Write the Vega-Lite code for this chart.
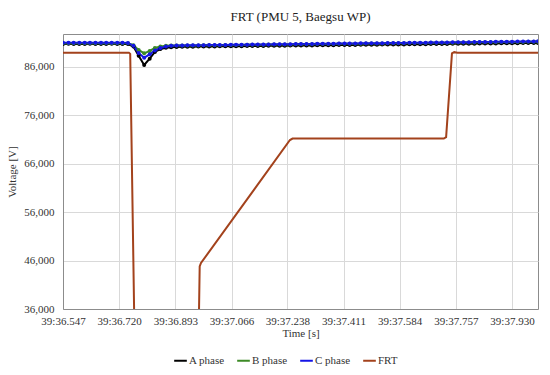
{
  "$schema": "https://vega.github.io/schema/vega-lite/v6.json",
  "width": 475,
  "height": 275,
  "autosize": {"type": "none"},
  "padding": {"left": 63, "top": 34, "right": 12, "bottom": 66},
  "background": "white",
  "config": {
    "font": "Liberation Serif",
    "view": {"stroke": "#8c8c8c", "strokeWidth": 1}
  },
  "title": {"text": "FRT (PMU 5, Baegsu WP)", "fontSize": 13, "fontWeight": "normal", "font": "Liberation Serif", "color": "#222", "offset": 10, "anchor": "middle"},
  "datasets": {
    "phase": [
      {"t":36.547,"A":90760,"B":90900,"C":90980},
      {"t":36.564,"A":90770,"B":90910,"C":90990},
      {"t":36.580,"A":90760,"B":90900,"C":90980},
      {"t":36.597,"A":90750,"B":90890,"C":90970},
      {"t":36.614,"A":90760,"B":90900,"C":90980},
      {"t":36.630,"A":90770,"B":90910,"C":90990},
      {"t":36.647,"A":90760,"B":90900,"C":90980},
      {"t":36.664,"A":90750,"B":90900,"C":90970},
      {"t":36.680,"A":90760,"B":90910,"C":90980},
      {"t":36.697,"A":90770,"B":90900,"C":90990},
      {"t":36.714,"A":90760,"B":90900,"C":90980},
      {"t":36.730,"A":90750,"B":90890,"C":90970},
      {"t":36.747,"A":90740,"B":90880,"C":90960},
      {"t":36.764,"A":90200,"B":90500,"C":90350},
      {"t":36.780,"A":88300,"B":89500,"C":88900},
      {"t":36.797,"A":86400,"B":88800,"C":87900},
      {"t":36.814,"A":87700,"B":89300,"C":88600},
      {"t":36.830,"A":89100,"B":89900,"C":89400},
      {"t":36.847,"A":89700,"B":90200,"C":89900},
      {"t":36.864,"A":89950,"B":90350,"C":90200},
      {"t":36.880,"A":90080,"B":90400,"C":90350},
      {"t":36.897,"A":90130,"B":90420,"C":90420},
      {"t":36.914,"A":90160,"B":90430,"C":90450},
      {"t":36.930,"A":90180,"B":90440,"C":90470},
      {"t":36.947,"A":90190,"B":90445,"C":90480},
      {"t":36.964,"A":90200,"B":90450,"C":90490},
      {"t":36.980,"A":90210,"B":90460,"C":90500},
      {"t":36.997,"A":90225,"B":90475,"C":90515},
      {"t":37.014,"A":90235,"B":90485,"C":90528},
      {"t":37.030,"A":90250,"B":90495,"C":90540},
      {"t":37.047,"A":90260,"B":90510,"C":90552},
      {"t":37.064,"A":90270,"B":90520,"C":90565},
      {"t":37.080,"A":90285,"B":90535,"C":90578},
      {"t":37.097,"A":90295,"B":90545,"C":90590},
      {"t":37.114,"A":90310,"B":90560,"C":90602},
      {"t":37.130,"A":90320,"B":90570,"C":90615},
      {"t":37.147,"A":90330,"B":90585,"C":90628},
      {"t":37.164,"A":90345,"B":90595,"C":90640},
      {"t":37.180,"A":90355,"B":90610,"C":90652},
      {"t":37.197,"A":90370,"B":90620,"C":90665},
      {"t":37.214,"A":90380,"B":90630,"C":90678},
      {"t":37.230,"A":90390,"B":90645,"C":90690},
      {"t":37.247,"A":90405,"B":90655,"C":90702},
      {"t":37.264,"A":90415,"B":90670,"C":90715},
      {"t":37.280,"A":90430,"B":90680,"C":90728},
      {"t":37.297,"A":90440,"B":90690,"C":90740},
      {"t":37.314,"A":90450,"B":90705,"C":90752},
      {"t":37.330,"A":90465,"B":90715,"C":90765},
      {"t":37.347,"A":90475,"B":90730,"C":90778},
      {"t":37.364,"A":90490,"B":90740,"C":90790},
      {"t":37.380,"A":90500,"B":90750,"C":90802},
      {"t":37.397,"A":90510,"B":90765,"C":90815},
      {"t":37.414,"A":90525,"B":90775,"C":90828},
      {"t":37.430,"A":90535,"B":90790,"C":90840},
      {"t":37.447,"A":90550,"B":90800,"C":90852},
      {"t":37.464,"A":90560,"B":90810,"C":90865},
      {"t":37.480,"A":90570,"B":90825,"C":90878},
      {"t":37.497,"A":90585,"B":90835,"C":90890},
      {"t":37.514,"A":90595,"B":90850,"C":90902},
      {"t":37.530,"A":90610,"B":90860,"C":90915},
      {"t":37.547,"A":90620,"B":90870,"C":90928},
      {"t":37.564,"A":90630,"B":90885,"C":90940},
      {"t":37.580,"A":90645,"B":90895,"C":90952},
      {"t":37.597,"A":90655,"B":90910,"C":90965},
      {"t":37.614,"A":90670,"B":90920,"C":90978},
      {"t":37.630,"A":90680,"B":90930,"C":90990},
      {"t":37.647,"A":90690,"B":90945,"C":91002},
      {"t":37.664,"A":90705,"B":90955,"C":91015},
      {"t":37.680,"A":90715,"B":90970,"C":91028},
      {"t":37.697,"A":90730,"B":90980,"C":91040},
      {"t":37.714,"A":90740,"B":90990,"C":91052},
      {"t":37.730,"A":90750,"B":91005,"C":91065},
      {"t":37.747,"A":90765,"B":91015,"C":91078},
      {"t":37.764,"A":90775,"B":91030,"C":91090},
      {"t":37.780,"A":90790,"B":91040,"C":91102},
      {"t":37.797,"A":90800,"B":91050,"C":91115},
      {"t":37.814,"A":90810,"B":91065,"C":91128},
      {"t":37.830,"A":90825,"B":91075,"C":91140},
      {"t":37.847,"A":90835,"B":91090,"C":91152},
      {"t":37.864,"A":90850,"B":91100,"C":91165},
      {"t":37.880,"A":90860,"B":91110,"C":91178},
      {"t":37.897,"A":90870,"B":91125,"C":91190},
      {"t":37.914,"A":90885,"B":91135,"C":91202},
      {"t":37.930,"A":90895,"B":91150,"C":91215},
      {"t":37.947,"A":90910,"B":91160,"C":91228},
      {"t":37.964,"A":90920,"B":91170,"C":91240},
      {"t":37.980,"A":90930,"B":91185,"C":91252},
      {"t":37.997,"A":90945,"B":91195,"C":91265},
      {"t":38.010,"A":90955,"B":91210,"C":91278}
    ],
    "frt": [
      {"t":36.547,"v":88950,"series":"FRT"},
      {"t":36.750,"v":88950,"series":"FRT"},
      {"t":36.754,"v":88700,"series":"FRT"},
      {"t":36.766,"v":36000,"series":"FRT"},
      {"t":36.770,"v":30000,"series":"FRT"},
      {"t":36.963,"v":30000,"series":"FRT"},
      {"t":36.966,"v":36000,"series":"FRT"},
      {"t":36.968,"v":44800,"series":"FRT"},
      {"t":36.972,"v":45500,"series":"FRT"},
      {"t":37.246,"v":70900,"series":"FRT"},
      {"t":37.254,"v":71200,"series":"FRT"},
      {"t":37.720,"v":71200,"series":"FRT"},
      {"t":37.727,"v":71500,"series":"FRT"},
      {"t":37.745,"v":88800,"series":"FRT"},
      {"t":37.752,"v":89050,"series":"FRT"},
      {"t":37.762,"v":88950,"series":"FRT"},
      {"t":38.010,"v":88950,"series":"FRT"}
    ]
  },
  "encoding": {
    "x": {
      "field": "t", "type": "quantitative",
      "scale": {"domain": [36.547, 38.01], "nice": false, "zero": false},
      "axis": {
        "title": "Time [s]",
        "values": [36.547, 36.720, 36.893, 37.066, 37.238, 37.411, 37.584, 37.757, 37.930],
        "labelExpr": "'39:' + format(datum.value, '06.3f')",
        "labelFont": "Liberation Serif", "labelFontSize": 11, "labelColor": "#333",
        "labelPadding": 6, "labelFlush": false, "labelOverlap": false,
        "titleFont": "Liberation Serif", "titleFontSize": 11, "titleFontWeight": "normal", "titleColor": "#333", "titlePadding": 1,
        "ticks": false, "grid": true, "gridColor": "#d9d9d9",
        "domainColor": "#8c8c8c"
      }
    },
    "y": {
      "field": "v", "type": "quantitative",
      "scale": {"domain": [36000, 92800], "nice": false, "zero": false},
      "axis": {
        "title": "Voltage [V]",
        "values": [36000, 46000, 56000, 66000, 76000, 86000],
        "format": ",.0f",
        "labelFont": "Liberation Serif", "labelFontSize": 11, "labelColor": "#333",
        "labelPadding": 9,
        "titleFont": "Liberation Serif", "titleFontSize": 11, "titleFontWeight": "normal", "titleColor": "#333", "titlePadding": 6,
        "ticks": false, "grid": true, "gridColor": "#d9d9d9",
        "domainColor": "#8c8c8c"
      }
    },
    "color": {
      "field": "series", "type": "nominal",
      "scale": {"domain": ["A phase", "B phase", "C phase", "FRT"], "range": ["#000000", "#3c8a26", "#1414e6", "#a3421c"]},
      "legend": {
        "title": null, "orient": "none", "direction": "horizontal",
        "legendX": 110, "legendY": 319,
        "symbolType": "stroke", "symbolStrokeWidth": 2, "symbolSize": 160,
        "labelFont": "Liberation Serif", "labelFontSize": 11, "labelColor": "#333",
        "columnPadding": 8, "labelOffset": 1
      }
    }
  },
  "layer": [
    {
      "data": {"name": "phase"},
      "transform": [
        {"fold": ["A", "B", "C"], "as": ["k", "v"]},
        {"calculate": "datum.k + ' phase'", "as": "series"}
      ],
      "mark": {"type": "line", "strokeWidth": 2, "clip": true, "point": {"filled": true, "size": 16}}
    },
    {
      "data": {"name": "frt"},
      "mark": {"type": "line", "strokeWidth": 2, "clip": true}
    }
  ]
}
